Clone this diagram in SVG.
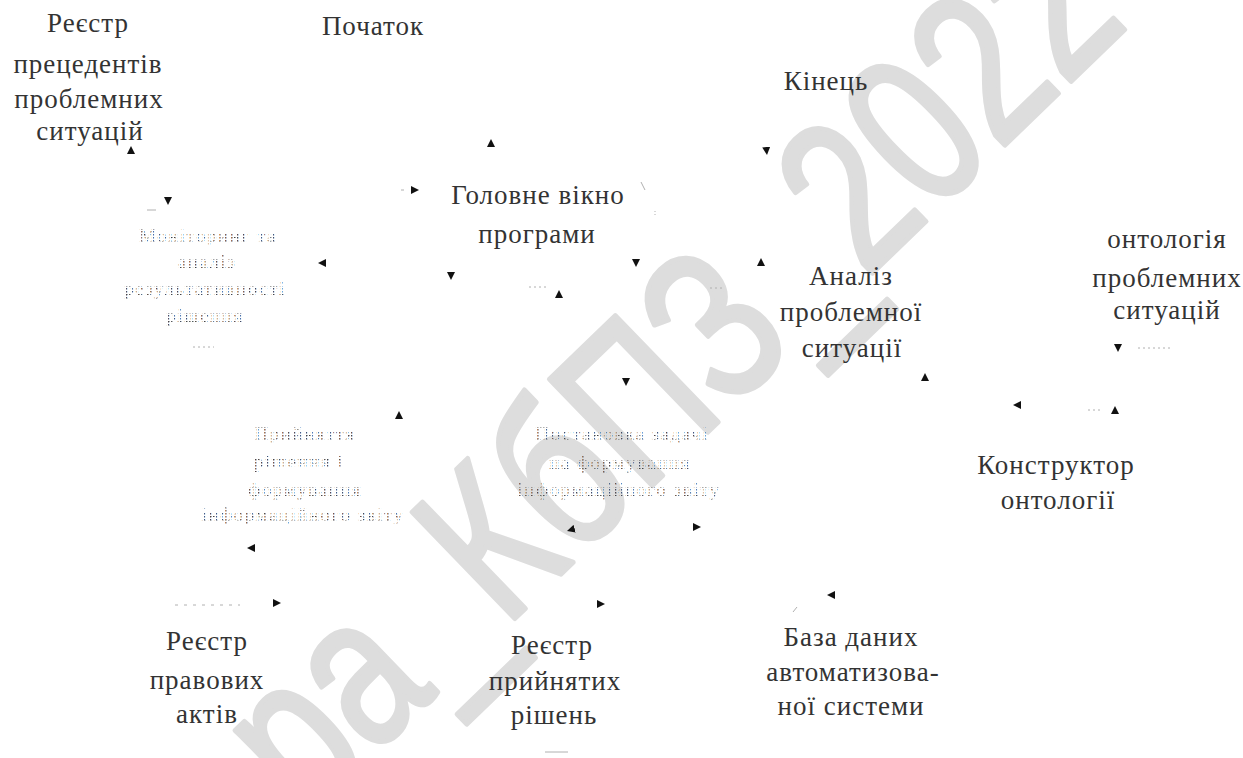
<svg xmlns="http://www.w3.org/2000/svg" width="1243" height="758" viewBox="0 0 1243 758">
<style>
.t{font-family:"Liberation Serif","Times New Roman",serif;font-size:27px;fill:#333;text-anchor:middle;letter-spacing:1px}
.f{font-family:"Liberation Serif","Times New Roman",serif;font-size:19px;fill:url(#dots);text-anchor:middle;letter-spacing:1.5px}
.wm{font-family:"Liberation Sans",Arial,sans-serif;font-size:215px;fill:#dddddd;stroke:#dddddd;stroke-width:5;stroke-linejoin:round;stroke-linecap:round}
.faint{stroke:#b0b0b0;stroke-width:1;fill:none}
.arr{stroke:none;fill:none}
</style>
<defs>
<pattern id="dots" width="3" height="3" patternUnits="userSpaceOnUse">
<rect x="0" y="0" width="1.5" height="1.5" fill="#444"/>
</pattern>
<marker id="ah" viewBox="0 0 10 10" refX="10" refY="5" markerWidth="8" markerHeight="8" markerUnits="userSpaceOnUse" orient="auto">
<path d="M0,0 L10,5 L0,10 Z" fill="#111"/>
</marker>
</defs>
<rect width="1243" height="758" fill="#fff"/>
<g id="watermark">
<text class="wm" transform="translate(306 820) rotate(-44) scale(0.77 1)">ра_КбПЗ_2022</text>
</g>
<g id="connectors">
<path class="arr" d="M131,156 L131,146" marker-end="url(#ah)"/>
<path class="arr" d="M168,195 L168,205" marker-end="url(#ah)"/>
<path class="arr" d="M409,190 L419,190" marker-end="url(#ah)"/>
<path class="arr" d="M491,149 L491,139" marker-end="url(#ah)"/>
<path class="arr" d="M766,145 L767,155" marker-end="url(#ah)"/>
<path class="arr" d="M328,263 L318,263" marker-end="url(#ah)"/>
<path class="arr" d="M451,270 L451,280" marker-end="url(#ah)"/>
<path class="arr" d="M636,257 L636,267" marker-end="url(#ah)"/>
<path class="arr" d="M559,300 L559,290" marker-end="url(#ah)"/>
<path class="arr" d="M761,268 L761,258" marker-end="url(#ah)"/>
<path class="arr" d="M626,376 L626,386" marker-end="url(#ah)"/>
<path class="arr" d="M925,383 L925,373" marker-end="url(#ah)"/>
<path class="arr" d="M1023,405 L1013,405" marker-end="url(#ah)"/>
<path class="arr" d="M1115,416 L1115,406" marker-end="url(#ah)"/>
<path class="arr" d="M1118,342 L1118,352" marker-end="url(#ah)"/>
<path class="arr" d="M399,421 L399,411" marker-end="url(#ah)"/>
<path class="arr" d="M257,548 L247,548" marker-end="url(#ah)"/>
<path class="arr" d="M577,528 L567,531" marker-end="url(#ah)"/>
<path class="arr" d="M691,527 L701,527" marker-end="url(#ah)"/>
<path class="arr" d="M271,603 L281,603" marker-end="url(#ah)"/>
<path class="arr" d="M595,604 L605,604" marker-end="url(#ah)"/>
<path class="arr" d="M837,595 L827,595" marker-end="url(#ah)"/>
<path class="faint" d="M147,210 H156" stroke="#444" stroke-width="2"/>
<path class="faint" d="M529,287 H547" stroke-dasharray="2 3"/>
<path class="faint" d="M710,288 H722" stroke-dasharray="2 3"/>
<path class="faint" d="M1138,348 H1170" stroke-dasharray="2 3"/>
<path class="faint" d="M1088,410 H1100" stroke-dasharray="2 3"/>
<path class="faint" d="M175,605 H240" stroke-dasharray="3 6"/>
<path class="faint" d="M193,347 H214" stroke-dasharray="2 3"/>
<path class="faint" d="M641,182 L645,190"/>
<path class="faint" d="M655,211 V215" stroke-dasharray="1 2"/>
<path class="faint" d="M793,612 L797,607"/>
<path class="faint" d="M545,752 H568" stroke="#999"/>
<path class="faint" d="M401,190 H404"/>
</g>
<g id="n-registry-precedents">
<text class="t" x="88" y="32">Реєстр</text>
<text class="t" x="88" y="73">прецедентів</text>
<text class="t" x="89" y="108">проблемних</text>
<text class="t" x="90" y="140">ситуацій</text>
</g>
<g id="n-start"><text class="t" x="373" y="35">Початок</text></g>
<g id="n-end"><text class="t" x="826" y="90">Кінець</text></g>
<g id="n-main">
<text class="t" x="538" y="204">Головне вікно</text>
<text class="t" x="537" y="243">програми</text>
</g>
<g id="n-monitoring">
<text class="f" x="208" y="242">Моніторинг та</text>
<text class="f" x="207" y="268">аналіз</text>
<text class="f" x="205" y="295">результативності</text>
<text class="f" x="205" y="322">рішення</text>
</g>
<g id="n-analysis">
<text class="t" x="851" y="285">Аналіз</text>
<text class="t" x="851" y="321">проблемної</text>
<text class="t" x="852" y="357">ситуації</text>
</g>
<g id="n-ontology">
<text class="t" x="1167" y="248">онтологія</text>
<text class="t" x="1167" y="287">проблемних</text>
<text class="t" x="1167" y="319">ситуацій</text>
</g>
<g id="n-constructor">
<text class="t" x="1056" y="474">Конструктор</text>
<text class="t" x="1058" y="509">онтології</text>
</g>
<g id="n-decision">
<text class="f" x="305" y="440">Прийняття</text>
<text class="f" x="299" y="468">рішення і</text>
<text class="f" x="305" y="496">формування</text>
<text class="f" x="303" y="521">інформаційного звіту</text>
</g>
<g id="n-task">
<text class="f" x="622" y="440">Постановка задачі</text>
<text class="f" x="620" y="469">на формування</text>
<text class="f" x="619" y="496">інформаційного звіту</text>
</g>
<g id="n-legal">
<text class="t" x="207" y="650">Реєстр</text>
<text class="t" x="207" y="689">правових</text>
<text class="t" x="207" y="723">актів</text>
</g>
<g id="n-decisions-registry">
<text class="t" x="552" y="654">Реєстр</text>
<text class="t" x="555" y="690">прийнятих</text>
<text class="t" x="554" y="724">рішень</text>
</g>
<g id="n-database">
<text class="t" x="851" y="646">База даних</text>
<text class="t" x="853" y="681">автоматизова-</text>
<text class="t" x="851" y="715">ної системи</text>
</g>
</svg>
